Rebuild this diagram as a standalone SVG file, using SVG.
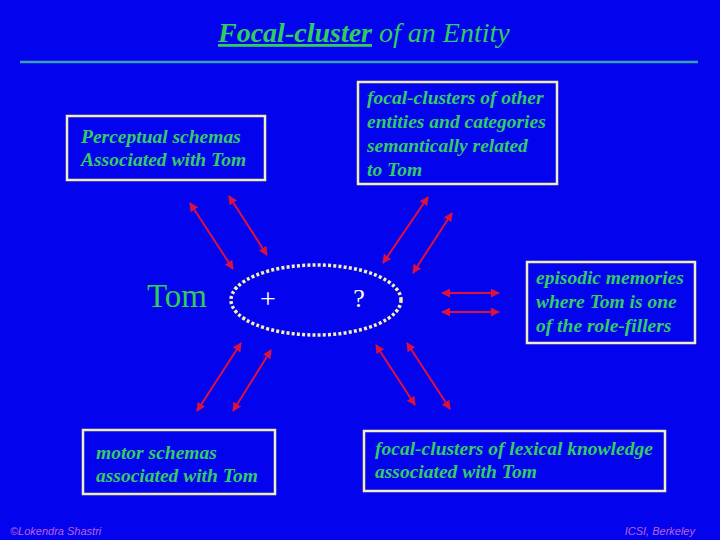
<svg xmlns="http://www.w3.org/2000/svg" width="720" height="540" viewBox="0 0 720 540">
<defs>
<style>
.bg{fill:#0303ee}
.box{fill:#0303ee;stroke:#f2eebc;stroke-width:2.5}
.bt{font-family:"Liberation Serif",serif;font-style:italic;font-weight:bold;font-size:19.5px;fill:#33cc66}
.arr{stroke:#e0103c;stroke-width:2;fill:none;marker-start:url(#ah);marker-end:url(#ah)}
.foot{font-family:"Liberation Sans",sans-serif;font-style:italic;font-size:11px;fill:#c060e0}
</style>
<marker id="ah" viewBox="0 0 10 10" refX="9" refY="5" markerWidth="4.5" markerHeight="4.5" orient="auto-start-reverse" markerUnits="strokeWidth">
<path d="M0,0 L10,5 L0,10 z" fill="#e0103c"/>
</marker>
</defs>
<rect class="bg" x="0" y="0" width="720" height="540"/>
<g id="title">
<text x="218" y="42" font-family="Liberation Serif,serif" font-size="28" fill="#30cc60"><tspan font-style="italic" font-weight="bold" text-decoration="underline">Focal-cluster</tspan><tspan font-style="italic"> of an Entity</tspan></text>
<line x1="20" y1="62" x2="698" y2="62" stroke="#3aa0b0" stroke-width="2.5"/>
</g>
<g id="perceptual">
<rect class="box" x="67" y="116" width="198" height="64"/>
<text class="bt" x="81" y="143">Perceptual schemas</text>
<text class="bt" x="81" y="166">Associated with Tom</text>
</g>
<g id="related">
<rect class="box" x="358" y="82" width="199" height="102"/>
<text class="bt" x="367" y="104">focal-clusters of other</text>
<text class="bt" x="367" y="128">entities and categories</text>
<text class="bt" x="367" y="152">semantically related</text>
<text class="bt" x="367" y="176">to Tom</text>
</g>
<g id="episodic">
<rect class="box" x="527" y="262" width="168" height="81"/>
<text class="bt" x="536" y="284">episodic memories</text>
<text class="bt" x="536" y="308">where Tom is one</text>
<text class="bt" x="536" y="332">of the role-fillers</text>
</g>
<g id="motor">
<rect class="box" x="83" y="430" width="192" height="64"/>
<text class="bt" x="96" y="459">motor schemas</text>
<text class="bt" x="96" y="482">associated with Tom</text>
</g>
<g id="lexical">
<rect class="box" x="364" y="431" width="301" height="60"/>
<text class="bt" x="375" y="455">focal-clusters of lexical knowledge</text>
<text class="bt" x="375" y="478">associated with Tom</text>
</g>
<g id="tom">
<text x="147" y="307" font-family="Liberation Serif,serif" font-size="33" fill="#30cc55">Tom</text>
</g>
<g id="cluster">
<ellipse cx="316" cy="300" rx="85" ry="35" fill="none" stroke="#f4f0b0" stroke-width="3.5" stroke-dasharray="3 2.2"/>
<text x="268" y="308" text-anchor="middle" font-family="Liberation Serif,serif" font-size="28" fill="#ffffff">+</text>
<text x="359" y="307" text-anchor="middle" font-family="Liberation Serif,serif" font-size="26" fill="#ffffff">?</text>
</g>
<g id="connectors">
<line class="arr" x1="190" y1="203" x2="233" y2="269"/>
<line class="arr" x1="229" y1="196" x2="267" y2="255"/>
<line class="arr" x1="428" y1="197" x2="383" y2="263"/>
<line class="arr" x1="452" y1="213" x2="413" y2="273"/>
<line class="arr" x1="442" y1="293" x2="499" y2="293"/>
<line class="arr" x1="442" y1="312" x2="499" y2="312"/>
<line class="arr" x1="241" y1="343" x2="197" y2="411"/>
<line class="arr" x1="271" y1="350" x2="233" y2="411"/>
<line class="arr" x1="376" y1="345" x2="415" y2="405"/>
<line class="arr" x1="407" y1="343" x2="450" y2="409"/>
</g>
<g id="footer">
<text class="foot" x="10" y="535">©Lokendra Shastri</text>
<text class="foot" x="695" y="535" text-anchor="end">ICSI, Berkeley</text>
</g>
</svg>
